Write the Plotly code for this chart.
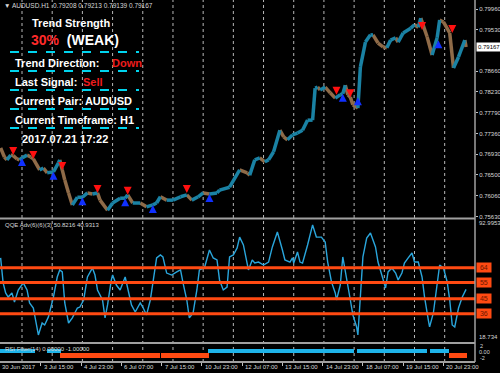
import plotly.graph_objects as go

# ---------------- data (bar index: 0 = 30 Jun 07:00, H1 bars) ----------------
price_idx = [0, 3, 5, 8, 10, 13, 15, 17, 21, 24, 26, 31, 34, 37, 42, 46, 47, 49, 51, 54,
             57, 61, 65, 69, 73, 77, 79, 85, 89, 95, 99, 101, 105, 111, 116, 121, 124, 127,
             132, 137, 143, 148, 152, 157, 161, 166, 172, 174, 182, 190, 196, 198, 202, 206,
             210, 213, 217, 222, 225, 228, 232, 236, 240, 244, 248, 250, 252, 254, 258, 262,
             266, 270, 272, 274, 276, 278, 280, 284, 286, 290, 294, 296, 300, 304, 307, 310,
             314, 316, 320, 326, 329, 332, 334, 339, 343, 347, 349, 352, 357, 360, 364, 369, 370]
price_val = [0.7706, 0.7687, 0.7681, 0.7691, 0.7690, 0.7683, 0.7681, 0.7685, 0.7691, 0.7687,
             0.7683, 0.7660, 0.7664, 0.7654, 0.7656, 0.7675, 0.7681, 0.7660, 0.7639, 0.7612,
             0.7587, 0.7603, 0.7603, 0.7612, 0.7610, 0.7612, 0.7597, 0.7576, 0.7591, 0.7601,
             0.7601, 0.7608, 0.7591, 0.7591, 0.7583, 0.7587, 0.7591, 0.7604, 0.7597, 0.7597,
             0.7604, 0.7608, 0.7597, 0.7604, 0.7612, 0.7610, 0.7612, 0.7618, 0.7624, 0.7660,
             0.7654, 0.7649, 0.7681, 0.7685, 0.7677, 0.7681, 0.7698, 0.7743, 0.7729, 0.7723,
             0.7733, 0.7737, 0.7743, 0.7764, 0.7764, 0.7831, 0.7833, 0.7827, 0.7833, 0.7821,
             0.7810, 0.7817, 0.7819, 0.7837, 0.7817, 0.7812, 0.7796, 0.7789, 0.7875, 0.7927,
             0.7942, 0.7942, 0.7925, 0.7917, 0.7915, 0.7931, 0.7936, 0.7927, 0.7946, 0.7956,
             0.7963, 0.7958, 0.7977, 0.7938, 0.7900, 0.7936, 0.7973, 0.7969, 0.7946, 0.7873,
             0.7896, 0.7931, 0.79167]

sell_idx = [10, 26, 49, 77, 101, 148, 267, 278, 335, 359]
sell_val = [0.7691, 0.7683, 0.7660, 0.7612, 0.7608, 0.7612, 0.7817, 0.7812, 0.7952, 0.7946]
buy_idx = [17, 42, 65, 99, 121, 166, 272, 284, 348]
buy_val = [0.7685, 0.7656, 0.7603, 0.7601, 0.7587, 0.7610, 0.7819, 0.7812, 0.7931]

qqe_idx = [0, 2, 4, 6, 9, 11, 14, 18, 21, 23, 26, 29, 30, 33, 35, 38, 42, 45, 47, 49, 51, 54,
           57, 61, 63, 66, 69, 73, 75, 77, 81, 83, 85, 88, 89, 92, 95, 99, 101, 104, 107, 111,
           113, 116, 119, 121, 124, 127, 129, 132, 136, 140, 143, 145, 148, 150, 153, 156, 158,
           162, 166, 169, 172, 174, 177, 180, 182, 185, 188, 190, 193, 197, 200, 202, 205, 209,
           213, 216, 220, 224, 226, 230, 232, 233, 236, 238, 240, 244, 248, 251, 255, 258, 260,
           263, 266, 267, 270, 272, 275, 278, 280, 283, 284, 286, 288, 291, 294, 298, 300, 303,
           306, 308, 311, 314, 316, 319, 321, 324, 327, 329, 332, 335, 337, 340, 341, 344, 347,
           349, 352, 355, 357, 359, 361, 364, 367, 370]
qqe_val = [69.9, 54.7, 48.6, 46.1, 48.6, 43.1, 50.4, 54.7, 50.4, 42.5, 39.4, 26.0, 23.0, 30.3,
           29.1, 34.0, 46.1, 58.3, 62.6, 61.4, 42.5, 30.3, 33.4, 39.4, 40.0, 44.3, 58.3, 63.8,
           59.5, 50.4, 44.3, 33.4, 41.3, 56.5, 59.5, 53.4, 50.4, 58.3, 51.6, 41.3, 37.0, 42.5,
           40.0, 35.2, 44.3, 54.7, 69.9, 71.7, 70.5, 60.7, 59.5, 61.4, 62.6, 54.7, 44.3, 33.4,
           36.4, 50.4, 62.6, 63.8, 74.7, 69.9, 68.7, 56.5, 50.4, 52.2, 70.5, 71.7, 76.0, 82.6,
           77.8, 62.6, 68.7, 66.8, 67.4, 65.6, 67.4, 76.6, 85.7, 74.7, 68.7, 67.4, 69.9, 66.8,
           73.5, 67.4, 66.8, 77.8, 90.0, 82.6, 82.6, 79.6, 67.4, 55.3, 48.6, 44.3, 53.4, 70.5,
           58.3, 44.3, 35.2, 27.9, 23.0, 50.4, 70.5, 82.0, 85.1, 76.6, 67.4, 59.5, 51.6, 61.4,
           63.8, 60.7, 56.5, 60.7, 66.8, 69.9, 72.9, 67.4, 67.4, 58.3, 46.1, 32.1, 27.9, 36.4,
           54.7, 65.6, 63.8, 55.3, 44.3, 29.1, 27.9, 39.4, 46.1, 50.8]
qqe_levels = [64, 55, 45, 36]
qqe_top, qqe_bottom = 92.9953, 18.734

filter_start = [0, 38, 48, 128, 131, 143, 158, 166, 284, 342, 357]
filter_end = [27, 47, 126, 129, 141, 156, 165, 280, 338, 356, 370]
filter_val = [1, 1, -1, -1, -1, -1, -1, 1, 1, 1, -1]

price_ticks = [0.79960, 0.79530, 0.78660, 0.78230, 0.77790, 0.77360, 0.76930,
               0.76500, 0.76060, 0.75630]
last_price = 0.79167

time_label_idx = [32, 64, 96, 128, 160, 192, 224, 256, 288, 320, 352]
time_labels = ["3 Jul 15:00", "4 Jul 23:00", "6 Jul 07:00", "7 Jul 15:00", "10 Jul 23:00",
               "12 Jul 07:00", "13 Jul 15:00", "14 Jul 23:00", "18 Jul 07:00",
               "19 Jul 15:00", "20 Jul 23:00"]
day_start_idx = [17 + 24 * k for k in range(15)]

# ---------------- geometry helpers ----------------
PW, PH = 475.0, 362.0


def px(x):
    return x / PW


def py(y):
    return (PH - y) / PH


TEAL = "#1a82a4"
BROWN = "#8f6b48"
QQE_BLUE = "#2aa6dc"
CYAN = "#1eb4ea"
ORANGE = "#ff4a12"
FONT = "Liberation Sans"

fig = go.Figure()

# price line coloured by direction
up_x, up_y, dn_x, dn_y = [], [], [], []
for i in range(len(price_idx) - 1):
    seg_x = [price_idx[i], price_idx[i + 1], None]
    seg_y = [price_val[i], price_val[i + 1], None]
    if price_val[i + 1] >= price_val[i]:
        up_x += seg_x
        up_y += seg_y
    else:
        dn_x += seg_x
        dn_y += seg_y
fig.add_trace(go.Scatter(x=dn_x, y=dn_y, mode="lines", line=dict(color=BROWN, width=3.5),
                         xaxis="x", yaxis="y", hoverinfo="skip"))
fig.add_trace(go.Scatter(x=up_x, y=up_y, mode="lines", line=dict(color=TEAL, width=3.5),
                         xaxis="x", yaxis="y", hoverinfo="skip"))
fig.add_trace(go.Scatter(x=sell_idx, y=sell_val, mode="markers",
                         marker=dict(symbol="arrow-down", size=8, color="#ff1010"),
                         xaxis="x", yaxis="y", hoverinfo="skip"))
fig.add_trace(go.Scatter(x=buy_idx, y=buy_val, mode="markers",
                         marker=dict(symbol="arrow-up", size=8, color="#1030ff"),
                         xaxis="x", yaxis="y", hoverinfo="skip"))

# QQE
fig.add_trace(go.Scatter(x=qqe_idx, y=qqe_val, mode="lines",
                         line=dict(color=QQE_BLUE, width=1.4),
                         xaxis="x", yaxis="y2", hoverinfo="skip"))

# RSI filter histogram
f_x, f_y, f_c = [], [], []
for s, e, v in zip(filter_start, filter_end, filter_val):
    for i in range(s, e + 1):
        f_x.append(i)
        f_y.append(v)
        f_c.append(CYAN if v > 0 else ORANGE)
fig.add_trace(go.Bar(x=f_x, y=f_y, width=1.02, marker=dict(color=f_c, line=dict(width=0)),
                     xaxis="x", yaxis="y3", hoverinfo="skip"))

shapes = []
# daily separators
for d in day_start_idx:
    shapes.append(dict(type="line", xref="x", yref="paper", x0=d, x1=d, y0=0, y1=1,
                       line=dict(color="#b8b8b8", width=1, dash="dot"), layer="below"))
# QQE levels
for lv in qqe_levels:
    shapes.append(dict(type="line", xref="paper", yref="y2", x0=0, x1=1, y0=lv, y1=lv,
                       line=dict(color=ORANGE, width=3)))
# panel borders
for yy in [218.5, 343, 362]:
    shapes.append(dict(type="line", xref="paper", yref="paper", x0=0, x1=1,
                       y0=py(yy), y1=py(yy), line=dict(color="#a0a0a0", width=2)))
shapes.append(dict(type="line", xref="paper", yref="paper", x0=1, x1=1, y0=0, y1=1,
                   line=dict(color="#a0a0a0", width=1.5)))
# info panel dashed separators
for yy in [52, 71, 90, 109, 128]:
    shapes.append(dict(type="line", xref="paper", yref="paper", x0=px(10), x1=px(139),
                       y0=py(yy), y1=py(yy), line=dict(color="#00d4ee", width=2, dash="dash")))

ann = []


def text(x, y, s, size=6, color="#d8d8d8", xanchor="left", **kw):
    ann.append(dict(xref="paper", yref="paper", x=px(x), y=py(y), text=s, showarrow=False,
                    xanchor=xanchor, yanchor="middle", font=dict(family=FONT, size=size,
                                                                color=color), **kw))


# header
text(2, 6, "▼ AUDUSD.H1  0.79208 0.79213 0.79139 0.79167", size=6.5)
# info panel
W = "#ffffff"
RED = "#ee1c1c"
text(71, 23, "<b>Trend Strength</b>", size=11, color=W, xanchor="center")
text(29, 40, "<b><span style='color:#ff2a2a'>30%</span>  (WEAK)</b>", size=14, color=W)
text(13, 63, "<b>Trend Direction:</b>", size=11, color=W)
text(110, 63, "<b>Down</b>", size=11, color=RED)
text(13, 82, "<b>Last Signal:</b>", size=11, color=W)
text(81, 82, "<b>Sell</b>", size=11, color=RED)
text(13, 101, "<b>Current Pair: AUDUSD</b>", size=11, color=W)
text(13, 120, "<b>Current Timeframe: H1</b>", size=11, color=W)
text(20, 139, "<b>2017.07.21 17:22</b>", size=11, color=W)
# indicator labels
text(3, 225, "QQE Adv(6)(6)(3) 50.8216 40.9313", size=6)
text(3, 349, "RSI Filter(14) 0.00000 -1.00000", size=6)
# right side labels
text(477, 223, f"{qqe_top:.4f}", size=6)
text(477, 337, f"{qqe_bottom:.3f}", size=6)
text(478, 346, "2", size=5.5)
text(477, 352, "0.00", size=5.5)
text(478, 358, "-2", size=5.5)
for lv in qqe_levels:
    ann.append(dict(xref="paper", yref="y2", x=px(476), y=lv, text=f"&nbsp;{lv}&nbsp;",
                    showarrow=False, xanchor="left", yanchor="middle", bgcolor=ORANGE,
                    borderpad=1, font=dict(family=FONT, size=7, color="#6a1600")))
ann.append(dict(xref="paper", yref="y", x=px(476), y=last_price, text=f"{last_price:.5f}",
                showarrow=False, xanchor="left", yanchor="middle", bgcolor="#ffffff",
                borderpad=1, font=dict(family=FONT, size=6, color="#000000")))
# time axis labels
ann.append(dict(xref="x", yref="paper", x=-0.5, y=py(367), text="30 Jun 2017",
                showarrow=False, xanchor="left", yanchor="middle",
                font=dict(family=FONT, size=6, color="#d8d8d8")))
for i, lab in zip(time_label_idx, time_labels):
    ann.append(dict(xref="x", yref="paper", x=i, y=py(367), text=lab, showarrow=False,
                    xanchor="left", yanchor="middle", xshift=1,
                    font=dict(family=FONT, size=6, color="#d8d8d8")))

fig.update_layout(
    width=500, height=373,
    margin=dict(l=0, r=25, t=0, b=11, autoexpand=False),
    paper_bgcolor="#000000", plot_bgcolor="#000000",
    showlegend=False, bargap=0,
    xaxis=dict(range=[-0.5, 377.1], showgrid=False, zeroline=False, showline=False,
               anchor="y3", tickvals=time_label_idx, ticks="outside", ticklen=3,
               tickcolor="#c0c0c0", showticklabels=False, fixedrange=True),
    yaxis=dict(domain=[py(218), 1], range=[0.75597, 0.80148], side="right",
               tickvals=price_ticks, ticktext=[f"{v:.5f}" for v in price_ticks],
               ticks="outside", ticklen=2, tickcolor="#c0c0c0",
               tickfont=dict(family=FONT, size=6, color="#d8d8d8"),
               showgrid=False, zeroline=False, showline=False, anchor="x"),
    yaxis2=dict(domain=[py(342), py(220)], range=[qqe_bottom, qqe_top], showgrid=False,
                zeroline=False, showticklabels=False, anchor="x"),
    yaxis3=dict(domain=[0, py(344)], range=[-2, 2], showgrid=False, zeroline=False,
                showticklabels=False, anchor="x"),
    shapes=shapes, annotations=ann,
)

fig.write_html("out.html", config={"displayModeBar": False},
               post_script="document.body.style.margin='0';document.body.style.padding='0';"
                           "document.documentElement.style.background='#000';")
